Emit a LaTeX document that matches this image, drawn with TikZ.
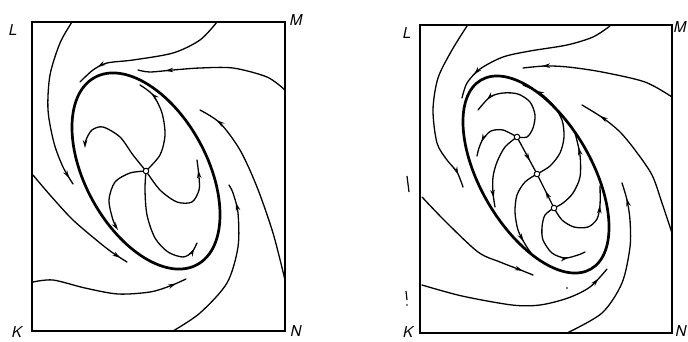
\documentclass[tikz,border=0pt]{standalone}
\usepackage{fontspec}
\newfontfamily\labfont{TeX Gyre Heros}
\usetikzlibrary{arrows.meta,decorations.markings}
\begin{document}
\begin{tikzpicture}[x=1pt,y=-1pt,
 traj/.style={line width=1.3pt, line cap=round},
 limitcycle/.style={line width=2.7pt},
 frame/.style={line width=1.4pt},
 arr/.style={postaction={decorate},decoration={markings, mark=at position #1 with {\arrow{Stealth[length=8pt,width=4.5pt]}}}},
 endarr/.style={-{Stealth[length=8pt,width=4.5pt]}},
 lab/.style={font=\fontsize{15}{15}\selectfont\labfont\itshape, inner sep=0pt},
 sing/.style={circle, draw, fill=white, line width=1pt, inner sep=0pt, minimum size=5.5pt}]
\useasboundingbox (0,0) rectangle (688,341);
% ---------- left panel ----------
\draw[frame] (32,22) rectangle (285,331);
\coordinate (S) at (146,171);
\draw[limitcycle, rotate around={-61.3:(146,171)}] (146,171) ellipse [x radius=106.7, y radius=60.9];
\draw[traj, arr=0.96] plot[smooth] coordinates {(72,22) (60,43) (50,75) (48,110) (54,143) (63,167) (73,184)};
\draw[traj, arr=0.85] plot[smooth] coordinates {(217,22) (200,40) (173,53) (133,60) (107,63) (93,70) (80,82)};
\draw[traj, arr=0.82] plot[smooth] coordinates {(285,90) (267,77) (233,68) (200,68) (173,70) (150,72) (138,70)};
\draw[traj, arr=0.9] plot[smooth] coordinates {(285,280) (273,233) (257,187) (240,150) (220,123) (200,110)};
\draw[traj, arr=0.89] plot[smooth] coordinates {(173,331) (200,313) (227,283) (238,247) (238,213) (233,193) (229,185)};
\draw[traj, arr=0.93] plot[smooth] coordinates {(33,282) (53,280) (85,288) (118,294) (150,292) (170,286) (186,279)};
\draw[traj, arr=0.94] plot[smooth] coordinates {(33,175) (50,195) (73,220) (100,243) (113,253) (127,262)};
% inner arms
\draw[traj, endarr] plot[smooth] coordinates {(S) (133,155) (120,137) (103,127) (92,130) (86,140) (85,148)};
\draw[traj, arr=0.86] plot[smooth] coordinates {(S) (160,155) (165,135) (162,113) (153,95) (140,85)};
\draw[traj, arr=0.9] plot[smooth] coordinates {(S) (160,190) (177,202) (192,202) (199,190) (199,177) (197,160)};
\draw[traj, endarr] plot[smooth] coordinates {(S) (130,173) (115,182) (109,200) (113,220) (118,230)};
\draw[traj, arr=0.95] plot[smooth] coordinates {(S) (145,190) (147,215) (155,238) (168,252) (183,257) (192,252) (197,243)};
\node[sing] (nS) at (S) {};
\node[lab] (L1) at (13,30) {L};
\node[lab] (M1) at (296,20) {M};
\node[lab] (K1) at (17,332) {K};
\node[lab] (N1) at (296,331) {N};
% ---------- right panel ----------
\draw[frame] (420,25) rectangle (672,333);
\coordinate (P1) at (517,137);
\coordinate (P2) at (537,174);
\coordinate (P3) at (554,208);
\draw[limitcycle, rotate around={-59.8:(536,174.5)}] (536,174.5) ellipse [x radius=109.3, y radius=55.6];
\draw[traj, arr=0.925] plot[smooth] coordinates {(467,26) (452,50) (438,78) (433,110) (437,143) (447,160) (457,172) (463,187)};
\draw[traj, arr=0.845] plot[smooth] coordinates {(610,26) (593,37) (567,45) (530,51) (503,57) (480,69) (467,83) (462,98)};
\draw[traj, arr=0.876] plot[smooth] coordinates {(672,97) (645,82) (602,72) (568,67) (545,66) (523,68)};
\draw[traj, arr=0.87] plot[smooth] coordinates {(672,233) (662,203) (652,175) (635,150) (620,132) (603,118) (582,105)};
\draw[traj, arr=0.91] plot[smooth] coordinates {(567,333) (602,313) (622,283) (630,247) (630,220) (627,200) (622,183)};
\draw[traj, arr=0.935] plot[smooth] coordinates {(422,285) (462,296) (512,305) (540,305) (568,298) (590,287) (607,269)};
\draw[traj, arr=0.92] plot[smooth] coordinates {(422,197) (446,222) (478,252) (500,262) (518,269) (533,275)};
% inner
\draw[traj, arr=0.875] plot[smooth] coordinates {(P1) (527,137) (533,128) (535,115) (530,102) (518,94) (503,93) (490,97) (478,110)};
\draw[traj, arr=0.74] plot[smooth] coordinates {(P1) (503,130) (491,131) (483,139) (479,148) (477,156)};
\draw[traj, arr=0.88] plot[smooth] coordinates {(P1) (505,147) (497,162) (493,177) (493,193) (495,207)};
\draw[traj, arr=0.64] (P1) -- (P2);
\draw[traj, arr=0.5] (P3) -- (P2);
\draw[traj, arr=0.85] plot[smooth] coordinates {(P2) (525,182) (517,195) (515,212) (518,230) (525,244) (531,253)};
\draw[traj, arr=0.88] plot[smooth] coordinates {(P2) (550,166) (560,153) (564,137) (562,120) (553,105) (540,93) (523,85)};
\draw[traj, arr=0.83] plot[smooth] coordinates {(P3) (563,203) (573,193) (580,177) (580,155) (575,133)};
\draw[traj, arr=0.78] plot[smooth] coordinates {(P3) (562,220) (574,227) (588,227) (597,219) (600,205) (600,186)};
\draw[traj, arr=0.8] plot[smooth] coordinates {(P3) (545,215) (542,227) (543,240) (552,253) (565,258) (578,255) (585,252)};
\node[sing] (nP1) at (P1) {};
\node[sing] (nP2) at (P2) {};
\node[sing] (nP3) at (P3) {};
% stray scan marks
\draw[line width=1.2pt] (407,176) -- (409,192);
\draw[line width=1.2pt] (406,291) -- (407,300);
\fill (407,305) circle (0.8);
\fill (567,288) circle (0.9);
\node[lab] (L2) at (407,33) {L};
\node[lab] (M2) at (680,27) {M};
\node[lab] (K2) at (408,332) {K};
\node[lab] (N2) at (681,331) {N};
\end{tikzpicture}
\end{document}
